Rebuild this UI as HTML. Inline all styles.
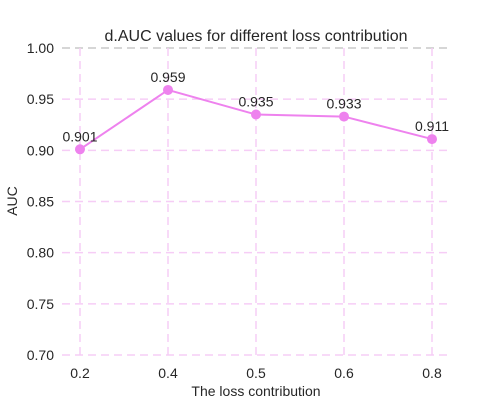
<!DOCTYPE html>
<html><head><meta charset="utf-8"><style>
body{margin:0;background:#fff;font-family:"Liberation Sans",sans-serif}
</style></head><body>
<svg id="c" width="500" height="400" xmlns="http://www.w3.org/2000/svg" font-family="Liberation Sans, sans-serif"></svg>
<script>
const categories=["0.2","0.4","0.5","0.6","0.8"];
const aucValues=[0.901,0.959,0.935,0.933,0.911];
const valueLabels=["0.901","0.959","0.935","0.933","0.911"];
const yTicks=[0.70,0.75,0.80,0.85,0.90,0.95,1.00];
const svg=document.getElementById('c');
const NS="http://www.w3.org/2000/svg";
const x=i=>80+i*88;
const y=v=>355-(v-0.70)/0.30*307;
function mk(t,a,txt){const e=document.createElementNS(NS,t);for(const k in a)e.setAttribute(k,a[k]);if(txt!=null)e.textContent=txt;svg.appendChild(e);return e;}
yTicks.forEach(t=>{
 const g=mk('line',{x1:62,x2:448,y1:y(t),y2:y(t),stroke:t===1?'#c8c8c8':'#f6cdf6','stroke-width':1.5,'stroke-dasharray':'8,5'});
 
 
 const l=mk('text',{x:54,y:y(t)+5,'text-anchor':'end','font-size':14,fill:'#262626'},t.toFixed(2));
 
 
});
categories.forEach((c,i)=>{
 const g=mk('line',{x1:x(i),x2:x(i),y1:48,y2:355,stroke:'#f6cdf6','stroke-width':1.5,'stroke-dasharray':'8,5'});
 
 
 const l=mk('text',{x:x(i),y:378,'text-anchor':'middle','font-size':14,fill:'#262626'},c);
 
 
});
const pl=mk('polyline',{points:aucValues.map((v,i)=>x(i)+','+y(v)).join(' '),fill:'none',stroke:'#ee82ee','stroke-width':2});


aucValues.forEach((v,i)=>{
 const p=mk('circle',{cx:x(i),cy:y(v),r:5,fill:'#ee82ee'});
 
 
 const l=mk('text',{x:x(i),y:y(v)-8,'text-anchor':'middle','font-size':14,fill:'#262626'},valueLabels[i]);
 
 
});
const t=mk('text',{x:256,y:41,'text-anchor':'middle','font-size':16,fill:'#262626'},'d.AUC values for different loss contribution');


const xt=mk('text',{x:256,y:396,'text-anchor':'middle','font-size':14,fill:'#262626'},'The loss contribution');


const yt=mk('text',{x:17,y:201,'text-anchor':'middle','font-size':14,fill:'#262626',transform:'rotate(-90 17 201)'},'AUC');


</script>
</body></html>
